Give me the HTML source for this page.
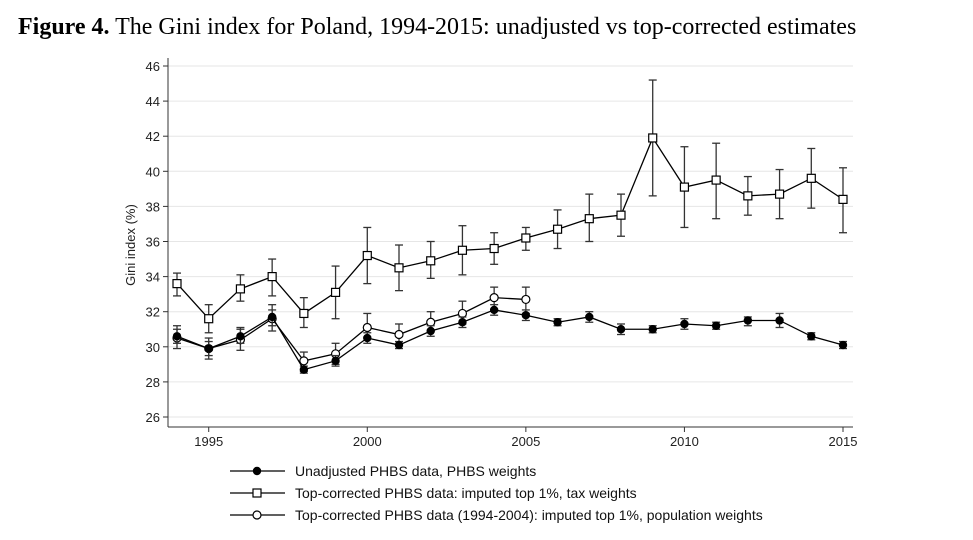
<!DOCTYPE html>
<html><head><meta charset="utf-8"><style>
body{margin:0;background:#fff;}
svg{display:block;font-family:"Liberation Sans",sans-serif;}
</style></head><body>
<svg id="c" width="973" height="540">
<text x="18" y="34" font-family="Liberation Serif,serif" font-size="24"><tspan font-weight="bold">Figure 4.</tspan> The Gini index for Poland, 1994-2015: unadjusted vs top-corrected estimates</text>
</svg>
<script>
const years=[1994,1995,1996,1997,1998,1999,2000,2001,2002,2003,2004,2005,2006,2007,2008,2009,2010,2011,2012,2013,2014,2015];
const topVal=[33.6,31.6,33.3,34.0,31.9,33.1,35.2,34.5,34.9,35.5,35.6,36.2,36.7,37.3,37.5,41.9,39.1,39.5,38.6,38.7,39.6,38.4];
const topLo=[32.9,30.8,32.6,32.9,31.1,31.6,33.6,33.2,33.9,34.1,34.7,35.5,35.6,36.0,36.3,38.6,36.8,37.3,37.5,37.3,37.9,36.5];
const topHi=[34.2,32.4,34.1,35.0,32.8,34.6,36.8,35.8,36.0,36.9,36.5,36.8,37.8,38.7,38.7,45.2,41.4,41.6,39.7,40.1,41.3,40.2];
const unVal=[30.6,29.9,30.6,31.7,28.7,29.2,30.5,30.1,30.9,31.4,32.1,31.8,31.4,31.7,31.0,31.0,31.3,31.2,31.5,31.5,30.6,30.1];
const unLo=[30.2,29.5,30.2,31.2,28.5,28.9,30.2,29.9,30.6,31.1,31.8,31.5,31.2,31.4,30.7,30.8,31.0,31.0,31.2,31.1,30.4,29.9];
const unHi=[31.0,30.3,31.0,32.1,28.9,29.5,30.8,30.3,31.2,31.7,32.4,32.1,31.6,32.0,31.3,31.2,31.6,31.4,31.7,31.9,30.8,30.3];
const popYears=[1994,1995,1996,1997,1998,1999,2000,2001,2002,2003,2004,2005];
const popVal=[30.5,29.9,30.4,31.6,29.2,29.6,31.1,30.7,31.4,31.9,32.8,32.7];
const popLo=[29.9,29.3,29.8,30.9,28.6,29.0,30.5,30.1,30.9,31.3,32.1,31.9];
const popHi=[31.2,30.5,31.1,32.4,29.7,30.2,31.9,31.3,32.0,32.6,33.4,33.4];
const yTicks=[26,28,30,32,34,36,38,40,42,44,46];
const xTicks=[1995,2000,2005,2010,2015];
const legendLabels=["Unadjusted PHBS data, PHBS weights","Top-corrected PHBS data: imputed top 1%, tax weights","Top-corrected PHBS data (1994-2004): imputed top 1%, population weights"];

const svg=document.getElementById('c');
const NS='http://www.w3.org/2000/svg';
const X=v=>177+(v-1994)*(843-177)/21;
const Y=v=>417-(v-26)*(417-66)/20;
function mk(t,a,p){const e=document.createElementNS(NS,t);for(const k in a)e.setAttribute(k,a[k]);(p||svg).appendChild(e);return e;}
yTicks.forEach(t=>{
 const g=mk('line',{x1:168,x2:853,y1:Y(t),y2:Y(t),stroke:'#e6e6e6','stroke-width':1});
 
 
 mk('line',{x1:163,x2:168,y1:Y(t),y2:Y(t),stroke:'#333'});
 const tx=mk('text',{x:160,y:Y(t)+5,'text-anchor':'end','font-size':13,fill:'#222'});tx.textContent=t;
 
 
});
mk('line',{x1:168,x2:168,y1:58,y2:427,stroke:'#333'});
mk('line',{x1:168,x2:853,y1:427,y2:427,stroke:'#333'});
xTicks.forEach(t=>{
 mk('line',{x1:X(t),x2:X(t),y1:427,y2:432,stroke:'#333'});
 const tx=mk('text',{x:X(t),y:446,'text-anchor':'middle','font-size':13,fill:'#222'});tx.textContent=t;
 
 
});
const yt=mk('text',{x:0,y:0,transform:'translate(135,245) rotate(-90)','text-anchor':'middle','font-size':13,fill:'#222'});yt.textContent='Gini index (%)';



function series(xs,v,lo,hi,marker,name){
 const g=mk('g',{});
 
 
 xs.forEach((x,i)=>{
  mk('line',{x1:X(x),x2:X(x),y1:Y(lo[i]),y2:Y(hi[i]),stroke:'#333','stroke-width':1.3},g);
  mk('line',{x1:X(x)-4,x2:X(x)+4,y1:Y(lo[i]),y2:Y(lo[i]),stroke:'#333','stroke-width':1.3},g);
  mk('line',{x1:X(x)-4,x2:X(x)+4,y1:Y(hi[i]),y2:Y(hi[i]),stroke:'#333','stroke-width':1.3},g);
 });
 mk('polyline',{points:xs.map((x,i)=>X(x)+','+Y(v[i])).join(' '),fill:'none',stroke:'#000','stroke-width':1.3},g);
 xs.forEach((x,i)=>drawMarker(marker,X(x),Y(v[i]),g));
}
function drawMarker(m,x,y,g){
 if(m==='sq')mk('rect',{x:x-4,y:y-4,width:8,height:8,fill:'#fff',stroke:'#000','stroke-width':1.2},g);
 else if(m==='fc')mk('circle',{cx:x,cy:y,r:4.2,fill:'#000'},g);
 else mk('circle',{cx:x,cy:y,r:4,fill:'#fff',stroke:'#000','stroke-width':1.2},g);
}
series(years,topVal,topLo,topHi,'sq','series-top-corrected-tax');
series(popYears,popVal,popLo,popHi,'oc','series-top-corrected-population');
series(years,unVal,unLo,unHi,'fc','series-unadjusted');
['fc','sq','oc'].forEach((m,i)=>{
 const y=471+i*22;
 const g=mk('g',{});
 
 
 mk('line',{x1:230,x2:285,y1:y,y2:y,stroke:'#000','stroke-width':1.3},g);
 drawMarker(m,257,y,g);
 const t=mk('text',{x:295,y:y+5,'font-size':14,fill:'#111'},g);t.textContent=legendLabels[i];
});
</script>
</body></html>
